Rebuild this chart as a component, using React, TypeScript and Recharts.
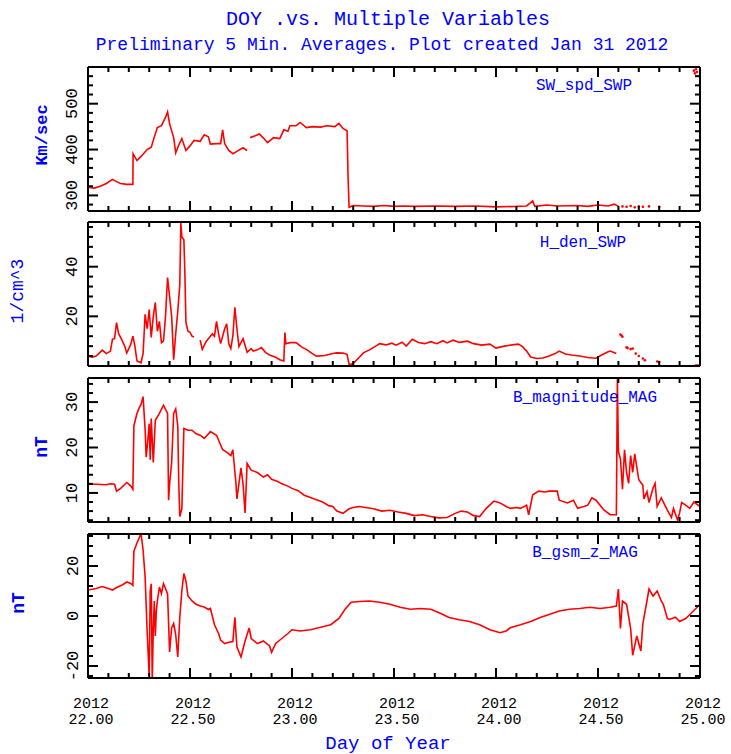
import { LineChart, Line, XAxis, YAxis } from 'recharts';

type Pt = [number, number | null];

// day-of-year ticks (minor every 0.1, labelled every 0.5)
const DAY_TICKS = [
  22.0, 22.1, 22.2, 22.3, 22.4, 22.5, 22.6, 22.7, 22.8, 22.9,
  23.0, 23.1, 23.2, 23.3, 23.4, 23.5, 23.6, 23.7, 23.8, 23.9,
  24.0, 24.1, 24.2, 24.3, 24.4, 24.5, 24.6, 24.7, 24.8, 24.9, 25.0,
];
const SPD_TICKS = [280, 300, 320, 340, 360, 380, 400, 420, 440, 460, 480, 500, 520, 540, 560, 580];
const DEN_TICKS = [4, 8, 12, 16, 20, 24, 28, 32, 36, 40, 44, 48, 52, 56];
const BMAG_TICKS = [4, 6, 8, 10, 12, 14, 16, 18, 20, 22, 24, 26, 28, 30, 32, 34];
const BZ_TICKS = [-24, -20, -16, -12, -8, -4, 0, 4, 8, 12, 16, 20, 24, 28, 32];

const swSpd: Pt[] = [
  [22.0, 318], [22.03, 316], [22.06, 320], [22.09, 326], [22.12, 335], [22.14, 330], [22.16, 326],
  [22.19, 324], [22.22, 324], [22.221, 391], [22.24, 376], [22.26, 385], [22.29, 400], [22.31, 405],
  [22.32, 420], [22.34, 448], [22.36, 452], [22.38, 470], [22.39, 482], [22.4, 456], [22.42, 426],
  [22.43, 393], [22.445, 410], [22.46, 424], [22.48, 398], [22.5, 408], [22.52, 420], [22.55, 418],
  [22.57, 432], [22.59, 428], [22.6, 412], [22.63, 413], [22.65, 413], [22.66, 443], [22.67, 413],
  [22.69, 398], [22.71, 391], [22.73, 396], [22.76, 404], [22.78, 398], [22.79, null], [22.795, 426],
  [22.82, 430], [22.84, 434], [22.86, 425], [22.88, 415], [22.91, 426], [22.94, 424], [22.96, 443],
  [22.98, 440], [22.99, 452], [23.02, 452], [23.04, 459], [23.07, 448], [23.1, 450], [23.14, 449],
  [23.17, 452], [23.21, 450], [23.23, 457], [23.25, 446], [23.27, 441], [23.275, 337], [23.28, 274],
  [23.3, 278], [23.35, 277], [23.4, 276], [23.45, 278], [23.5, 276], [23.55, 277], [23.6, 276],
  [23.7, 277], [23.8, 276], [23.9, 277], [24.0, 275], [24.1, 276], [24.15, 277], [24.18, 288],
  [24.19, 276], [24.25, 279], [24.3, 277], [24.4, 278], [24.45, 276], [24.5, 279], [24.55, 277],
  [24.58, 281], [24.6, 276],
];
const swSpdDots: Pt[] = [
  [24.62, 276], [24.64, 275], [24.66, 277], [24.68, 274], [24.7, 276], [24.72, 275], [24.75, 276],
  [24.8, 275], [24.97, 572], [24.975, 566], [24.98, 575], [24.985, 569],
];

const hDen: Pt[] = [
  [22.0, 4.1], [22.02, 3.6], [22.04, 4], [22.07, 6.4], [22.09, 5], [22.11, 6], [22.12, 10.8],
  [22.13, 11], [22.14, 17.5], [22.15, 13], [22.16, 11.5], [22.18, 8], [22.19, 5.2], [22.21, 8.8],
  [22.22, 12], [22.23, 8], [22.24, 2], [22.26, 1.3], [22.27, 5], [22.28, 20.8], [22.29, 15],
  [22.3, 22.7], [22.31, 11.5], [22.32, 20], [22.33, 25.6], [22.34, 14], [22.35, 18], [22.36, 9.4],
  [22.37, 10], [22.38, 20], [22.39, 35.6], [22.4, 28], [22.41, 20], [22.42, 2.5], [22.43, 13],
  [22.44, 22], [22.45, 32.8], [22.455, 57.6], [22.46, 52], [22.47, 50.8], [22.475, 36.8],
  [22.48, 17.6], [22.49, 14], [22.5, 13.6], [22.51, 12], [22.52, 11.7], [22.53, null],
  [22.55, 10.4], [22.56, 6.7], [22.58, 10], [22.59, 11], [22.61, 13], [22.62, 12], [22.63, 18],
  [22.64, 13], [22.65, 9], [22.67, 15], [22.68, 17], [22.69, 9], [22.7, 7], [22.71, 12],
  [22.72, 23.6], [22.73, 15], [22.74, 7.8], [22.76, 11], [22.78, 5.5], [22.8, 7], [22.81, 6],
  [22.83, 6.5], [22.85, 7.4], [22.87, 5.5], [22.89, 4.4], [22.92, 3.5], [22.94, 2.5], [22.96, 2],
  [22.965, 13.5], [22.97, 9], [22.99, 9.4], [23.02, 9.4], [23.05, 7.5], [23.07, 6.7], [23.1, 5],
  [23.12, 4], [23.16, 4.2], [23.2, 5], [23.22, 5.3], [23.25, 5.2], [23.27, 4.7], [23.28, 0.5],
  [23.3, 1], [23.33, 3.5], [23.35, 5.3], [23.38, 6.5], [23.41, 8], [23.43, 9], [23.46, 8.5],
  [23.49, 9.2], [23.51, 8.4], [23.54, 9.6], [23.56, 8], [23.59, 10.8], [23.62, 9.5], [23.65, 9],
  [23.68, 9.8], [23.71, 9], [23.74, 10.2], [23.76, 9.3], [23.79, 10.4], [23.82, 9.5], [23.86, 10],
  [23.89, 9], [23.93, 8.4], [23.97, 8.8], [24.0, 7.2], [24.04, 8], [24.08, 8.5], [24.11, 8.8],
  [24.13, 7.8], [24.15, 6], [24.17, 3.6], [24.2, 3], [24.23, 3.2], [24.26, 4], [24.29, 5],
  [24.31, 6], [24.34, 4.8], [24.37, 4.4], [24.41, 4], [24.45, 3.4], [24.49, 3.1], [24.52, 4.5],
  [24.55, 5.7], [24.56, 6], [24.59, 5], [24.6, null], [24.975, 0.4], [25.0, 0.4],
];
const hDenDots: Pt[] = [
  [24.61, 12.7], [24.615, 12.3], [24.62, 11.8], [24.64, 7.5], [24.645, 7.2], [24.66, 6.8],
  [24.67, 7], [24.685, 5], [24.7, 4], [24.72, 3], [24.73, 2.3], [24.79, 1.8], [24.8, 1.6],
];

const bMag: Pt[] = [
  [22.0, 11.9], [22.04, 11.9], [22.09, 11.8], [22.11, 12], [22.13, 11.9], [22.14, 10.4], [22.16, 11],
  [22.19, 12.3], [22.21, 11.5], [22.22, 10.8], [22.225, 24.8], [22.24, 27.5], [22.25, 28.6],
  [22.26, 29.5], [22.27, 31.2], [22.28, 24], [22.285, 17.9], [22.29, 20], [22.3, 25.2], [22.305, 17.3],
  [22.31, 26.4], [22.32, 16.7], [22.33, 26], [22.35, 27.5], [22.37, 29.3], [22.39, 27.5],
  [22.395, 8.4], [22.4, 12], [22.41, 16.7], [22.42, 27.5], [22.43, 28.5], [22.44, 24.8], [22.445, 12],
  [22.45, 4.8], [22.46, 6.5], [22.47, 24.2], [22.49, 23.8], [22.51, 23.8], [22.53, 23], [22.55, 22.7],
  [22.57, 22], [22.6, 23.5], [22.63, 22.7], [22.66, 19.5], [22.68, 19], [22.7, 18.2], [22.71, 19.5],
  [22.725, 12.3], [22.73, 8.7], [22.75, 15.5], [22.76, 12], [22.77, 5.6], [22.78, 16.5], [22.8, 15],
  [22.83, 14.5], [22.86, 13.5], [22.88, 14], [22.9, 13], [22.93, 12.5], [22.95, 12], [22.98, 11.5],
  [23.0, 11], [23.03, 10.5], [23.06, 9.5], [23.09, 9], [23.12, 8.5], [23.15, 8], [23.18, 7.2],
  [23.2, 7], [23.22, 6], [23.25, 5.5], [23.28, 6.5], [23.3, 6.8], [23.33, 7], [23.36, 6.8],
  [23.4, 6.5], [23.44, 6], [23.48, 6.2], [23.52, 5.8], [23.56, 5.5], [23.6, 5], [23.64, 5.2],
  [23.68, 4.8], [23.72, 4.5], [23.76, 4.6], [23.8, 5.5], [23.83, 6], [23.86, 5.8], [23.89, 5],
  [23.92, 4.8], [23.95, 6.5], [23.99, 8.2], [24.02, 7.8], [24.05, 7], [24.07, 6.6], [24.1, 6.8],
  [24.12, 6.6], [24.15, 7.3], [24.16, 5.2], [24.18, 9.6], [24.21, 10.4], [24.24, 10.2], [24.26, 10.4],
  [24.3, 10.4], [24.31, 8.4], [24.35, 7.8], [24.38, 8.4], [24.4, 6.6], [24.43, 7], [24.45, 7.3],
  [24.47, 8.9], [24.49, 8.4], [24.53, 6.2], [24.56, 5.2], [24.59, 5.2], [24.595, 35], [24.6, 19.1],
  [24.61, 17.5], [24.62, 10.8], [24.63, 19.5], [24.64, 14.5], [24.65, 12.1], [24.66, 18.2],
  [24.67, 14.5], [24.68, 18.6], [24.7, 12.9], [24.72, 11.7], [24.725, 8.7], [24.74, 10.3],
  [24.75, 7.9], [24.77, 11.1], [24.78, 12.1], [24.79, 7], [24.81, 8.9], [24.84, 6.2], [24.86, 4.6],
  [24.87, 6.6], [24.89, 4], [24.9, 5.6], [24.91, 7.9], [24.93, 7.3], [24.95, 6.6], [24.97, 8],
  [25.0, 7],
];

const bz: Pt[] = [
  [22.0, 10.4], [22.04, 11], [22.07, 11.8], [22.1, 11], [22.12, 10.4], [22.14, 11.4], [22.17, 12.5],
  [22.19, 13.6], [22.21, 13], [22.22, 12.2], [22.225, 25.9], [22.24, 29.2], [22.26, 33], [22.27, 26.4],
  [22.28, 15.7], [22.29, -6.2], [22.3, -24], [22.305, 10], [22.31, 12.9], [22.315, -26], [22.32, -5],
  [22.325, 6], [22.33, -8], [22.335, 2], [22.34, 6], [22.35, 11.6], [22.36, 9], [22.37, 12.9],
  [22.38, 11], [22.39, 8.8], [22.4, -14.4], [22.41, -4.8], [22.42, -3], [22.43, -7.5], [22.44, -16.4],
  [22.45, -0.5], [22.46, 10.1], [22.47, 17], [22.48, 14], [22.49, 8], [22.51, 6], [22.53, 4.7],
  [22.55, 4], [22.57, 3.6], [22.59, 2.6], [22.6, 3], [22.62, -3.5], [22.64, -7], [22.65, -9.6],
  [22.67, -11], [22.69, -10.5], [22.71, -10.2], [22.72, -0.5], [22.73, -12.3], [22.75, -16.4],
  [22.77, -10], [22.79, -4.8], [22.8, -9], [22.83, -11], [22.86, -10], [22.89, -12], [22.9, -14.5],
  [22.92, -11], [22.95, -9], [22.98, -7], [23.0, -5.5], [23.04, -6], [23.09, -5.5], [23.14, -4.5],
  [23.19, -3.5], [23.23, -1], [23.26, 2.7], [23.29, 5.5], [23.33, 5.8], [23.38, 6], [23.43, 5.5],
  [23.48, 4.7], [23.53, 3.5], [23.58, 2.7], [23.63, 3], [23.68, 2.7], [23.73, 1], [23.77, -0.6],
  [23.82, -1.5], [23.87, -2.2], [23.92, -3.5], [23.97, -5.5], [24.02, -6.7], [24.05, -6],
  [24.07, -4.7], [24.12, -3.5], [24.17, -2.2], [24.22, -0.5], [24.26, 0.6], [24.31, 2], [24.36, 2.7],
  [24.41, 3], [24.46, 3.5], [24.51, 3], [24.56, 3.5], [24.59, 4], [24.6, 10.8], [24.61, -5],
  [24.62, 6], [24.64, 4.7], [24.66, -5], [24.67, -15.7], [24.69, -8], [24.71, -14], [24.72, -3],
  [24.74, 6], [24.75, 10.8], [24.77, 8], [24.79, 10], [24.81, 6], [24.82, 4.7], [24.84, -1],
  [24.85, -1.4], [24.88, -0.5], [24.9, -2.2], [24.93, -1], [24.95, 0.6], [24.98, 3], [25.0, 4.7],
];

const W = 731;
const PLOT_LEFT = 88;
const PLOT_RIGHT = 700;
const PANEL_H = 144;
const PAD = 10;
const FONT = '"Liberation Mono", "DejaVu Sans Mono", monospace';
const RED = '#ff0000';
const BLUE = '#0000ff';

const isHalfDay = (v: number) => Math.abs(v * 2 - Math.round(v * 2)) < 1e-6;

interface PanelProps {
  top: number;
  domain: [number, number];
  yTicks: number[];
  major: number;
  main: Pt[];
  dots?: Pt[];
  showDays?: boolean;
}

function Panel({ top, domain, yTicks, major, main, dots, showDays }: PanelProps) {
  const bottomPad = showDays ? 70 : PAD;
  const h = PANEL_H + PAD + bottomPad;
  const plotTop = PAD;
  const plotBottom = PAD + PANEL_H;
  const mainData = main.map(([day, v]) => ({ day, v }));
  const dotData = (dots || []).map(([day, v]) => ({ day, v }));
  const isMajorY = (v: number) => Math.abs(v % major) < 1e-6;

  const leftTick = (p: any) => {
    const y = p.y;
    const v = p.payload.value;
    const mj = isMajorY(v);
    return (
      <g>
        <line x1={PLOT_LEFT} x2={PLOT_LEFT + (mj ? 10 : 5)} y1={y} y2={y} stroke="#000" strokeWidth={2} />
        {mj && (
          <text x={73} y={y} transform={`rotate(-90 73 ${y})`} textAnchor="middle"
            dominantBaseline="central" fontFamily={FONT} fontSize={17} fill="#000">{v}</text>
        )}
      </g>
    );
  };
  const rightTick = (p: any) => {
    const mj = isMajorY(p.payload.value);
    return <line x1={PLOT_RIGHT} x2={PLOT_RIGHT - (mj ? 10 : 5)} y1={p.y} y2={p.y} stroke="#000" strokeWidth={2} />;
  };
  const topTick = (p: any) => {
    const mj = isHalfDay(p.payload.value);
    return <line x1={p.x} x2={p.x} y1={plotTop} y2={plotTop + (mj ? 10 : 5)} stroke="#000" strokeWidth={2} />;
  };
  const bottomTick = (p: any) => {
    const v = p.payload.value;
    const mj = isHalfDay(v);
    return (
      <g>
        <line x1={p.x} x2={p.x} y1={plotBottom} y2={plotBottom - (mj ? 10 : 5)} stroke="#000" strokeWidth={2} />
        {showDays && mj && (
          <g>
            <text x={p.x + 3} y={plotBottom + 30} textAnchor="middle" fontFamily={FONT} fontSize={15} fill="#000">2012</text>
            <text x={p.x + 3} y={plotBottom + 46} textAnchor="middle" fontFamily={FONT} fontSize={15} fill="#000">{v.toFixed(2)}</text>
          </g>
        )}
      </g>
    );
  };

  return (
    <div style={{ position: 'absolute', left: 0, top: top - PAD }}>
      <LineChart width={W} height={h} margin={{ top: 0, right: 21, bottom: 0, left: 28 }}>
        <XAxis xAxisId="b" type="number" dataKey="day" orientation="bottom" domain={[22, 25]}
          ticks={DAY_TICKS} interval={0} height={bottomPad} allowDataOverflow tickLine={false}
          axisLine={{ stroke: '#000', strokeWidth: 2 }} tick={bottomTick} />
        <XAxis xAxisId="t" type="number" dataKey="day" orientation="top" domain={[22, 25]}
          ticks={DAY_TICKS} interval={0} height={PAD} allowDataOverflow tickLine={false}
          axisLine={{ stroke: '#000', strokeWidth: 2 }} tick={topTick} />
        <YAxis yAxisId="l" type="number" orientation="left" domain={domain} ticks={yTicks} interval={0}
          width={60} allowDataOverflow tickLine={false} axisLine={{ stroke: '#000', strokeWidth: 2 }}
          tick={leftTick} />
        <YAxis yAxisId="r" type="number" orientation="right" domain={domain} ticks={yTicks} interval={0}
          width={10} allowDataOverflow tickLine={false} axisLine={{ stroke: '#000', strokeWidth: 2 }}
          tick={rightTick} />
        <Line xAxisId="b" yAxisId="l" data={mainData} dataKey="v" type="linear" stroke={RED}
          strokeWidth={1.6} dot={false} connectNulls={false} isAnimationActive={false} />
        {dots && (
          <Line xAxisId="b" yAxisId="l" data={dotData} dataKey="v" stroke="none"
            dot={{ r: 1.3, fill: RED, stroke: 'none' }} isAnimationActive={false} />
        )}
        <Line xAxisId="t" yAxisId="r" data={mainData} dataKey="v" stroke="none" dot={false}
          isAnimationActive={false} />
      </LineChart>
    </div>
  );
}

const Txt = ({ x, y, children, size = 17, color = BLUE, rotate = false, bold = false }: any) => (
  <div style={{
    position: 'absolute', left: x, top: y, whiteSpace: 'nowrap', fontFamily: FONT, fontSize: size,
    color, fontWeight: bold ? 'bold' : 'normal', lineHeight: 1,
    transform: `translate(-50%, -50%)${rotate ? ' rotate(-90deg)' : ''}`,
  }}>{children}</div>
);

export default function App() {
  return (
    <div style={{ position: 'absolute', left: 0, top: 0, width: W, height: 754, background: '#fff', overflow: 'hidden' }}>
      <Txt x={388} y={20} size={20}>DOY .vs. Multiple Variables</Txt>
      <Txt x={382} y={45} size={18}>Preliminary 5 Min. Averages. Plot created Jan 31 2012</Txt>

      <Panel top={67} domain={[266, 580]} yTicks={SPD_TICKS} major={100} main={swSpd} dots={swSpdDots} />
      <Panel top={222} domain={[0, 58]} yTicks={DEN_TICKS} major={20} main={hDen} dots={hDenDots} />
      <Panel top={378} domain={[3.6, 35.3]} yTicks={BMAG_TICKS} major={10} main={bMag} />
      <Panel top={534} domain={[-24.8, 32.8]} yTicks={BZ_TICKS} major={20} main={bz} showDays />

      <Txt x={584} y={86} size={16}>SW_spd_SWP</Txt>
      <Txt x={583} y={243} size={16}>H_den_SWP</Txt>
      <Txt x={585} y={398} size={16}>B_magnitude_MAG</Txt>
      <Txt x={585} y={553} size={16}>B_gsm_z_MAG</Txt>

      <Txt x={42} y={135} size={17} bold rotate>Km/sec</Txt>
      <Txt x={18} y={291} size={18} rotate>1/cm^3</Txt>
      <Txt x={42} y={447} size={18} bold rotate>nT</Txt>
      <Txt x={19} y={603} size={18} bold rotate>nT</Txt>
      <Txt x={388} y={744} size={19}>Day of Year</Txt>
    </div>
  );
}
